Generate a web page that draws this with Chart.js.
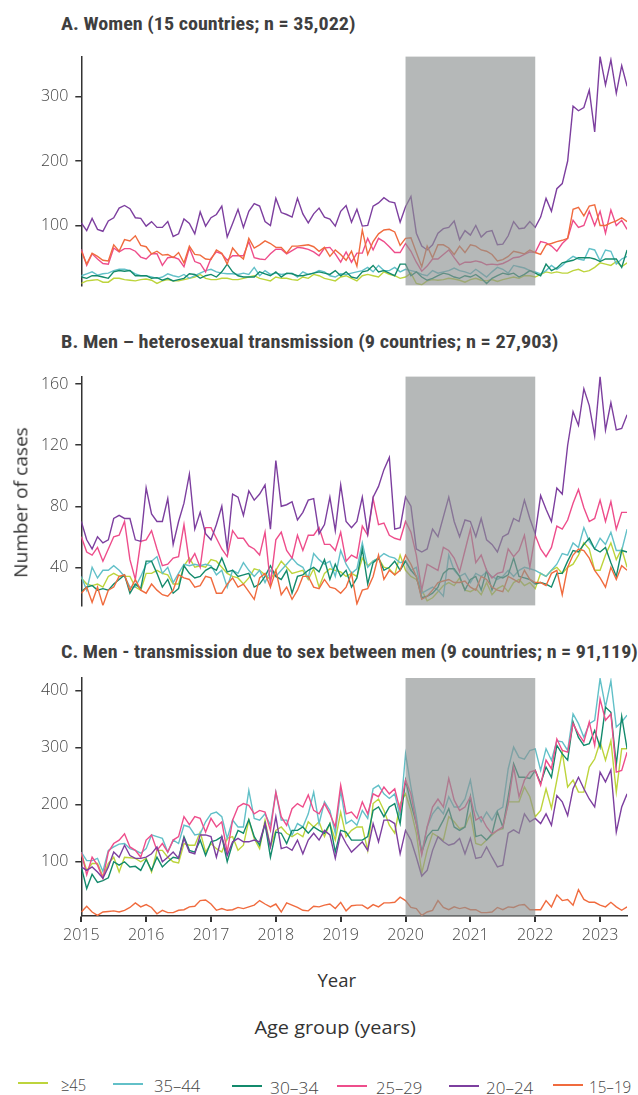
<!DOCTYPE html>
<html><head><meta charset="utf-8">
<script src="https://cdn.jsdelivr.net/npm/chart.js@4.4.1/dist/chart.umd.min.js"></script>
<style>
html,body{margin:0;padding:0;background:#fff;}
body{width:638px;height:1095px;position:relative;overflow:hidden;font-family:'Open Sans',sans-serif;}
canvas{position:absolute;left:0;}
.title{position:absolute;font-family:'Liberation Sans Narrow','Roboto Condensed','DejaVu Sans Condensed','Roboto',sans-serif;font-weight:bold;font-size:19px;color:#3f3f3f;white-space:nowrap;line-height:1;transform-origin:0 50%;}
.lab{position:absolute;white-space:nowrap;color:#333;font-size:19px;line-height:1;transform-origin:50% 50%;}
.leg{position:absolute;white-space:nowrap;color:#444;font-size:17px;line-height:1;transform-origin:0 50%;font-weight:300;}
.legline{position:absolute;height:2px;width:30px;}
</style></head><body>
<div class="title" id="tA">A. Women (15 countries; n = 35,022)</div>
<div class="title" id="tB">B. Men – heterosexual transmission (9 countries; n = 27,903)</div>
<div class="title" id="tC">C. Men - transmission due to sex between men (9 countries; n = 91,119)</div>
<canvas id="cA" width="638" height="262" style="top:40px"></canvas>
<canvas id="cB" width="638" height="262" style="top:360px"></canvas>
<canvas id="cC" width="638" height="300" style="top:660px"></canvas>
<div class="lab" id="lY">Number of cases</div>
<div class="lab" id="lX">Year</div>
<div class="lab" id="lAge">Age group (years)</div>
<div id="legend"></div>
<script>
// ---------- DATA ----------
const ageGroups = ['≥45','35–44','30–34','25–29','20–24','15–19'];
const yearLabels = ['2015','2016','2017','2018','2019','2020','2021','2022','2023'];
const yearTickMonths = [0,12,24,36,48,60,72,84,96];
const shadeStartMonth = 60;   // Jan 2020
const shadeEndMonth = 84;     // Jan 2022
const yTicksA = [100,200,300];
const yTicksB = [40,80,120,160];
const yTicksC = [100,200,300,400];

// A. Women
const womenGe45 = [10,14,15,16,12,12,18,18,16,15, 14,16,17,15,10,14,16,14,14,16, 18,20,24,18,16,16,18,18,16,16, 18,20,22,18,16,14,20,18,18,16, 15,20,18,24,22,18,16,14,20,22, 18,14,22,24,22,20,28,24,22,18, 20,26,10,8,14,16,15,16,18,17, 15,12,16,18,15,14,16,13,16,18, 20,18,22,22,20,24,28,26,28,26, 26,30,32,28,30,35,42,40,38,44, 36,42];
const women3544 = [22,25,28,23,25,26,30,32,32,30, 25,22,22,20,18,20,25,22,20,24, 18,22,26,30,32,28,26,25,25,24, 26,24,35,22,30,24,26,24,25,26, 20,28,24,26,30,28,22,20,25,24, 26,28,30,35,28,38,30,30,35,28, 32,30,28,24,22,30,26,28,30,34, 30,28,25,32,26,20,28,35,32,26, 38,36,34,30,28,25,30,38,32,38, 46,52,48,46,64,62,45,62,60,40, 48,52];
const women3034 = [20,18,22,22,20,18,28,30,29,30, 22,22,22,18,19,15,18,14,16,18, 25,24,18,22,24,20,28,40,28,22, 20,20,20,28,25,22,28,20,26,25, 22,22,24,26,28,26,24,30,22,28, 20,18,28,30,38,28,30,26,22,40, 40,22,28,20,15,18,22,26,24,20, 18,22,20,24,18,10,18,22,26,24, 26,20,24,30,26,22,40,30,34,42, 44,46,50,50,50,48,44,48,48,48, 35,62];
const women2529 = [63,38,56,48,41,40,65,59,64,64, 60,51,48,56,56,38,50,51,48,36, 65,44,41,28,49,59,56,46,53,53, 53,75,50,48,47,56,63,63,56,61, 66,65,63,59,53,65,66,56,43,59, 43,57,57,80,62,80,75,67,58,58, 72,60,43,29,37,48,48,55,62,50, 39,43,43,45,43,39,40,39,41,45, 50,51,55,59,58,75,73,68,60,72, 80,108,97,100,122,100,122,88,124,100, 108,94];
const women2024 = [104,92,111,94,91,107,112,127,131,126, 112,111,99,106,97,97,106,83,87,110, 103,87,121,99,112,117,130,82,103,125, 97,122,134,130,106,100,142,120,117,113, 142,118,104,118,127,113,110,99,122,131, 105,125,99,100,130,135,143,137,135,105, 129,145,88,68,62,70,88,95,97,107, 78,92,85,100,82,90,92,70,71,84, 106,95,96,106,97,113,142,122,157,165, 200,285,278,283,310,245,362,318,357,305, 348,316];
const women1519 = [60,40,57,52,46,45,70,60,78,76, 84,69,67,56,60,54,55,50,58,42, 68,55,54,48,47,62,57,40,65,55, 48,80,65,70,76,72,66,66,57,68, 68,69,70,67,60,66,52,62,55,46, 60,37,93,55,75,87,93,94,90,69, 80,81,58,36,68,50,70,70,65,55, 68,58,70,68,62,60,55,45,47,52, 60,58,56,62,58,55,70,72,75,77, 80,125,128,115,130,132,100,100,104,107, 112,106];

// B. Men - heterosexual transmission
const hetGe45 = [33,29,28,29,27,34,36,34,34,34, 27,25,36,36,38,36,35,29,29,41, 46,40,41,40,45,44,40,36,34,33, 29,33,39,38,35,32,38,44,40,36, 37,38,32,39,27,36,39,38,37,34, 36,34,46,41,44,46,40,39,35,48, 38,34,32,25,18,20,24,28,30,28, 33,25,24,26,22,30,22,26,28,24, 30,32,28,30,26,36,34,38,40,36, 40,42,48,56,52,38,38,48,56,45, 52,40];
const het3544 = [34,25,40,33,38,38,41,38,34,27, 27,34,42,44,47,36,40,30,36,42, 41,42,41,42,41,35,38,27,38,36, 43,38,34,38,30,38,34,38,42,46, 42,40,33,49,45,42,44,34,51,42, 36,39,56,40,44,46,49,47,46,43, 44,38,40,23,25,27,25,21,48,38, 34,36,30,36,34,37,34,32,34,38, 34,38,40,39,38,36,34,38,42,49, 48,56,53,66,57,52,59,55,63,51, 51,65];
const het3034 = [24,27,28,25,26,25,29,32,35,23, 29,26,44,44,36,27,32,23,26,41, 36,33,34,38,40,38,46,37,38,34, 35,36,27,29,34,41,34,32,38,23, 34,35,38,40,37,45,32,42,34,38, 27,33,52,29,43,46,38,40,44,38, 44,38,34,20,21,23,27,36,39,39, 34,25,32,34,25,38,25,34,33,35, 46,34,33,32,29,30,29,27,36,36, 44,51,50,55,59,52,50,53,43,34, 51,50];
const het2529 = [60,50,48,53,44,52,60,61,70,45, 32,57,58,64,52,41,42,46,47,68, 43,49,40,66,66,59,52,47,64,59, 59,54,52,48,63,29,58,63,51,46, 61,51,61,61,66,55,55,51,63,44, 48,46,67,61,85,68,69,61,59,58, 70,63,48,25,42,40,38,53,51,46, 37,51,65,43,48,38,33,36,37,52, 47,51,61,40,61,52,47,53,67,65, 71,82,91,79,70,72,84,70,83,65, 76,76];
const het2024 = [70,58,52,60,56,58,72,74,72,72, 58,57,92,75,70,70,85,55,70,82, 101,65,76,62,58,68,80,52,88,86, 74,90,84,88,94,65,110,80,81,83, 71,76,84,85,62,68,86,64,94,70, 66,70,86,62,86,93,104,112,65,66, 86,80,52,50,52,65,60,73,86,70, 60,71,70,60,72,58,55,50,60,62, 72,70,84,72,62,87,78,70,92,88, 120,142,133,157,146,126,165,130,148,130, 131,140];
const het1519 = [23,27,17,27,15,25,27,34,35,25, 32,25,23,29,25,22,21,25,35,33, 32,27,28,34,33,23,23,29,33,27, 29,24,19,33,36,27,38,22,27,19, 25,34,34,27,26,32,27,26,23,27, 36,16,25,26,34,48,32,38,35,38, 48,42,34,19,21,25,30,31,32,30, 30,31,27,25,34,32,27,25,24,34, 32,30,38,32,30,30,28,36,38,22, 40,48,52,51,46,38,33,27,40,32, 41,38];

// C. Men - transmission due to sex between men
const msmGe45 = [114,85,97,97,74,97,108,82,108,107, 106,100,106,82,120,120,108,100,98,132, 129,129,152,117,132,123,117,141,144,120, 129,173,141,123,173,126,155,161,150,144, 150,144,170,161,170,144,167,138,187,144, 155,161,161,120,202,210,190,164,150,202, 219,190,150,80,120,150,144,138,179,170, 158,161,184,132,129,138,147,155,158,205, 205,205,231,214,179,190,228,194,243,292, 231,243,222,222,266,280,310,278,312,222, 298,298];
const msm3544 = [117,102,102,106,83,120,126,131,132,123, 120,115,123,147,144,141,117,138,132,164, 161,147,149,170,184,187,179,141,173,161, 161,225,176,173,184,164,222,173,173,147, 167,161,184,222,167,205,190,150,225,167, 173,164,190,176,228,234,219,211,219,179, 289,231,179,115,161,184,196,184,214,196, 196,210,243,190,170,187,173,190,196,263, 301,283,280,295,298,260,298,278,312,310, 295,359,342,318,342,348,421,371,417,336, 345,357];
const msm3034 = [91,53,78,64,67,72,100,94,100,91, 92,85,104,85,108,91,100,108,106,144, 120,117,138,111,135,138,144,100,132,155, 150,174,144,129,167,108,152,150,132,155, 155,161,150,161,155,150,167,117,155,152, 138,138,138,144,190,196,179,196,202,167, 243,202,167,117,144,155,155,173,193,161, 155,161,214,144,147,138,149,187,161,214, 272,248,248,246,260,237,266,248,304,289, 278,345,318,304,307,330,301,371,362,270, 355,298];
const msm2529 = [117,77,108,94,71,117,132,138,149,126, 120,108,138,147,120,132,117,138,144,179, 165,179,176,152,176,161,170,117,173,196, 202,199,184,190,187,155,222,179,164,193, 202,196,217,190,184,202,184,161,234,184, 187,176,205,184,219,214,231,219,228,190, 243,219,167,112,161,196,210,196,246,208, 190,196,214,173,179,161,149,155,161,202, 266,214,243,257,260,234,278,263,315,295, 292,342,324,310,345,304,385,348,359,257, 260,292];
const msm2024 = [91,85,91,82,71,91,117,108,129,111, 106,106,108,114,126,100,108,117,106,141, 117,114,147,147,144,108,144,111,135,141, 135,135,138,135,167,126,179,123,126,120, 138,114,138,150,138,155,147,106,150,132, 117,126,135,120,167,135,173,173,167,114, 155,138,108,75,85,120,144,135,129,132, 141,114,141,106,108,126,108,91,94,150, 156,150,184,170,176,167,184,164,216,205, 181,228,248,228,210,196,257,240,261,152, 196,219];
const msm1519 = [12,22,12,6,12,13,14,12,15,20, 28,21,25,20,9,15,11,11,15,16, 21,22,32,33,26,15,18,15,16,20, 18,21,24,32,26,21,26,12,28,24, 20,15,14,22,21,24,26,18,29,14, 23,24,24,18,25,21,28,28,29,38, 32,20,18,6,12,15,32,20,16,21, 18,20,16,16,11,11,12,20,16,21, 20,24,25,16,16,16,32,21,42,32, 34,24,51,34,29,29,24,21,29,21, 15,21];

// ---------- STYLE ----------
const seriesColors = ['#bdd43c','#62c0c8','#138a6c','#ee4d8b','#7d3f9f','#f06b3e'];
const tickFont = {family:"'Open Sans', sans-serif", size:16, weight:'300'};

const shadePlugin = {
  id:'shade',
  afterDatasetsDraw(chart){
    const {ctx, chartArea:a, scales:{x}} = chart;
    const x0 = x.getPixelForValue(shadeStartMonth), x1 = x.getPixelForValue(shadeEndMonth);
    ctx.save();
    ctx.fillStyle = 'rgba(141,146,146,0.65)';
    ctx.fillRect(x0, a.top, x1 - x0, a.bottom - a.top);
    ctx.restore();
  }
};

function makePanel(id, series, yMin, yMax, yTicks, showX, padTop, padBottom){
  const datasets = series.map((vals, k) => ({
    label: ageGroups[k],
    data: vals.map((v, i) => ({x: i, y: v})),
    borderColor: seriesColors[k],
    backgroundColor: seriesColors[k],
    borderWidth: 1.4,
    pointRadius: 0,
    tension: 0,
    fill: false,
    order: series.length - k
  }));
  const xScale = {
    type:'linear', min:0, max:101, display: showX,
    afterBuildTicks: s => { s.ticks = yearTickMonths.map(v => ({value:v})); },
    ticks:{ callback:(v, i) => yearLabels[i], font:{...tickFont, size:16}, color:'#444', padding:4, maxRotation:0, autoSkip:false },
    grid:{ display:true, drawOnChartArea:false, drawTicks:true, tickLength:6, color:'#333', lineWidth:2 },
    border:{ display:true, color:'#333', width:1.5 }
  };
  if (showX) xScale.afterFit = s => { s.height = 34; };
  return new Chart(document.getElementById(id), {
    type:'line',
    data:{ datasets },
    options:{
      responsive:false, animation:false, devicePixelRatio:1,
      layout:{ padding:{ top:padTop, bottom:padBottom, left:0, right:10.9 } },
      plugins:{ legend:{display:false}, tooltip:{enabled:false}, title:{display:false} },
      scales:{
        x: xScale,
        y:{
          type:'linear', min:yMin, max:yMax,
          afterBuildTicks: s => { s.ticks = yTicks.map(v => ({value:v})); },
          ticks:{ font:tickFont, color:'#444', padding:7 },
          grid:{ display:true, drawOnChartArea:false, drawTicks:true, tickLength:6, color:'#333', lineWidth:1.5 },
          border:{ display:true, color:'#333', width:1.5 },
          afterFit: s => { s.width = 81.3; }
        }
      }
    },
    plugins:[shadePlugin]
  });
}

makePanel('cA', [womenGe45, women3544, women3034, women2529, women2024, women1519], 7, 362, yTicksA, false, 11.7, 12.7);
makePanel('cB', [hetGe45, het3544, het3034, het2529, het2024, het1519], 15, 165, yTicksB, false, 13.3, 12);
makePanel('cC', [msmGe45, msm3544, msm3034, msm2529, msm2024, msm1519], 5, 422, yTicksC, true, 18, 10);

// ---------- TEXT LAYOUT ----------
function placeLeft(el, x0, cy, targetW){
  const w = el.offsetWidth, h = el.offsetHeight;
  el.style.left = x0 + 'px'; el.style.top = (cy - h/2) + 'px';
  el.style.transform = 'scaleX(' + (targetW / w) + ')';
}
function placeCenter(el, cx, cy, targetW, rot){
  const w = el.offsetWidth, h = el.offsetHeight;
  el.style.left = (cx - w/2) + 'px'; el.style.top = (cy - h/2) + 'px';
  el.style.transform = (rot ? 'rotate(' + rot + 'deg) ' : '') + 'scaleX(' + (targetW / w) + ')';
}
placeLeft(document.getElementById('tA'), 60.6, 23, 294);
placeLeft(document.getElementById('tB'), 60.6, 341, 497);
placeLeft(document.getElementById('tC'), 60.6, 651, 577);
placeCenter(document.getElementById('lY'), 21, 502, 151, -90);
placeCenter(document.getElementById('lX'), 337, 980, 39, 0);
placeCenter(document.getElementById('lAge'), 334.5, 1027, 161, 0);

const legLineX = [18,113,232,337,449,553];
const legTextX = [61,154,270,376,486,589];
const legTextW = [25,46,48,46,47,42];
const legY = [1083,1084,1086,1086,1086,1085];
const legend = document.getElementById('legend');
ageGroups.forEach((g, k) => {
  const ln = document.createElement('div');
  ln.className = 'legline';
  ln.style.left = legLineX[k] + 'px';
  ln.style.top = (legY[k] - 1) + 'px';
  ln.style.background = seriesColors[k];
  legend.appendChild(ln);
  const t = document.createElement('div');
  t.className = 'leg';
  t.textContent = g;
  legend.appendChild(t);
  placeLeft(t, legTextX[k], legY[k] + 1, legTextW[k]);
});
</script>
</body></html>
